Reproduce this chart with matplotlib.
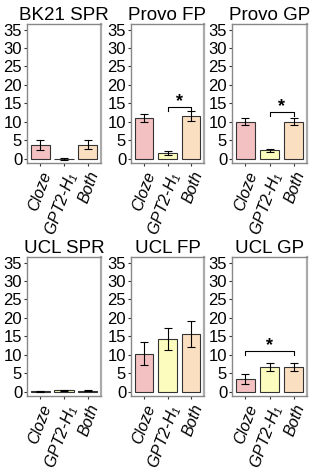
import numpy as np
import matplotlib
matplotlib.use("Agg")
import matplotlib.pyplot as plt

plt.rcParams['font.family'] = ['Liberation Sans', 'DejaVu Sans']

titles = ["BK21 SPR", "Provo FP", "Provo GP", "UCL SPR", "UCL FP", "UCL GP"]
labels = ["Cloze", "GPT2-H$_\\mathregular{1}$", "Both"]
colors = ["#f4c1c2", "#fdfcbf", "#fbdfc1"]

means = [
    [3.7, -0.1, 3.8],
    [11.0, 1.5, 11.5],
    [10.0, 2.2, 10.0],
    [0.1, 0.3, 0.2],
    [10.3, 14.2, 15.6],
    [3.4, 6.7, 6.7],
]
errs = [
    [1.4, 0.3, 1.3],
    [1.2, 0.5, 1.3],
    [1.0, 0.45, 1.0],
    [0.15, 0.15, 0.15],
    [3.2, 3.0, 3.5],
    [1.3, 1.1, 1.1],
]
# significance brackets: (panel, from, to, height)
sig = [(1, 1, 2, 14.0), (2, 1, 2, 12.5), (5, 0, 2, 11.0)]

fig = plt.figure(figsize=(3.14, 4.71), dpi=100)
W, H = 314, 471
lefts = [27, 131, 232]
widths = [74, 73, 75]
tops = [24, 257]
height = 139

axes = []
for i in range(6):
    r, c = divmod(i, 3)
    ax = fig.add_axes([lefts[c] / W, 1 - (tops[r] + height) / H, widths[c] / W, height / H])
    axes.append(ax)
    x = np.arange(3)
    ax.bar(x, means[i], width=0.8, color=colors, edgecolor="#333333", linewidth=0.8)
    ax.errorbar(x, means[i], yerr=errs[i], fmt="none", ecolor="black",
                elinewidth=0.8, capsize=3, capthick=0.8)
    ax.set_xlim(-0.55, 2.55)
    ax.set_ylim(-1.2, 36.5)
    ax.set_yticks([0, 5, 10, 15, 20, 25, 30, 35])
    ax.set_xticks(x)
    ax.set_xticklabels(labels, rotation=70, ha="right", rotation_mode="anchor",
                       style="italic", fontsize=11.5)
    ax.tick_params(axis="y", labelsize=12, length=2.5, pad=1, colors="#333333", labelcolor="black")
    ax.tick_params(axis="x", length=2.5, pad=2, colors="#333333", labelcolor="black")
    for s in ax.spines.values():
        s.set_color("#888888")
        s.set_linewidth(1.0)
    ax.spines["right"].set_linewidth(1.6)
    ax.spines["right"].set_color("#aaaaaa")
    ax.set_title(titles[i], fontsize=13.5, pad=3)

for p, a, b, h in sig:
    ax = axes[p]
    ax.plot([a, a, b, b], [h - 1.0, h, h, h - 1.0], color="black", linewidth=0.8)
    ax.text((a + b) / 2, h - 0.8, "*", ha="center", va="bottom", fontsize=13, fontweight="bold")

fig.savefig("out.png", dpi=100)
